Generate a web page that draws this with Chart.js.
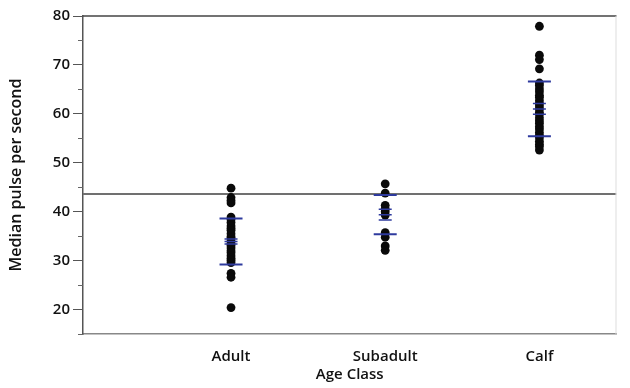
<!DOCTYPE html>
<html>
<head>
    <script src="https://cdn.jsdelivr.net/npm/chart.js@4.4.1/dist/chart.umd.min.js"></script>
    <style>
        body { margin: 0; background: #fff; }
    </style>
</head>
<body>
<canvas id="myChart" width="630" height="388"></canvas>
<script>
// values
var categories = ["Adult", "Subadult", "Calf"];
var adultPulse = [44.8, 42.9, 42.3, 41.8, 38.9, 38.4, 37.8, 37.1, 36.6, 36.2, 35.5, 34.9, 34.6, 34.0, 33.5, 33.1, 32.6, 32.0, 31.6, 31.0, 30.5, 30.1, 29.6, 27.4, 26.6, 20.4];
var subadultPulse = [45.7, 43.8, 41.3, 40.6, 40.0, 39.3, 35.7, 34.8, 33.0, 32.1];
var calfPulse = [77.9, 72.0, 71.1, 69.2, 66.3, 65.8, 65.1, 64.5, 63.8, 63.4, 62.7, 62.1, 61.6, 61.0, 60.3, 59.9, 59.2, 58.6, 58.1, 57.4, 56.9, 56.2, 55.6, 55.1, 54.4, 53.8, 53.3, 52.6];
var groupMean = [33.9, 39.4, 61.0];
var groupSE = [0.5, 1.1, 1.1];
var groupSD = [4.7, 4.0, 5.6];
var grandMean = 43.6;
var yTicks = [20, 30, 40, 50, 60, 70, 80];
var yMinorTicks = [15, 25, 35, 45, 55, 65, 75];

var xMin = 0.04, xMax = 3.5;
var groups = [adultPulse, subadultPulse, calfPulse];

var dots = [], sdLines = [], seLines = [];
groups.forEach(function(vals, i) {
    vals.forEach(function(v) { dots.push({x: i + 1, y: v}); });
    sdLines.push({x: i + 1, y: groupMean[i] + groupSD[i]}, {x: i + 1, y: groupMean[i] - groupSD[i]});
    seLines.push({x: i + 1, y: groupMean[i] + groupSE[i]}, {x: i + 1, y: groupMean[i]}, {x: i + 1, y: groupMean[i] - groupSE[i]});
});

// frame on top/right and the short minor ticks on the y axis
var extras = {
    id: "extras",
    afterDraw: function(chart) {
        var c = chart.ctx, a = chart.chartArea, y = chart.scales.y;
        c.save();
        c.strokeStyle = "#444";
        c.lineWidth = 1.5;
        c.beginPath();
        c.moveTo(a.left, a.top);
        c.lineTo(a.right, a.top);
        c.stroke();
        c.strokeStyle = "#ddd";
        c.lineWidth = 1;
        c.beginPath();
        c.moveTo(a.right - 0.5, a.top);
        c.lineTo(a.right - 0.5, a.bottom);
        c.stroke();
        c.strokeStyle = "#666";
        c.lineWidth = 1;
        yMinorTicks.forEach(function(t) {
            var p = Math.round(y.getPixelForValue(t)) + 0.5;
            c.beginPath();
            c.moveTo(a.left - 5, p);
            c.lineTo(a.left, p);
            c.stroke();
        });
        c.restore();
    }
};

var font = {family: "Open Sans", size: 15, weight: 600};
var titleFont = {family: "Open Sans", size: 16, weight: 600};

new Chart(document.getElementById("myChart").getContext("2d"), {
    type: "scatter",
    data: {
        datasets: [{
            label: "Std Dev",
            data: sdLines,
            pointStyle: "line",
            pointRadius: 11.5,
            borderColor: "#2e3a9e",
            borderWidth: 2,
            order: 1
        }, {
            label: "Mean Error",
            data: seLines,
            pointStyle: "line",
            pointRadius: 6.5,
            borderColor: "#2e3a9e",
            borderWidth: 1.5,
            order: 1
        }, {
            label: "Pulse",
            data: dots,
            pointRadius: 4.4,
            backgroundColor: "#0a0a0a",
            borderWidth: 0,
            order: 2
        }, {
            type: "line",
            label: "Grand Mean",
            data: [{x: xMin, y: grandMean}, {x: xMax, y: grandMean}],
            borderColor: "#707070",
            borderWidth: 2,
            pointRadius: 0,
            order: 3
        }]
    },
    options: {
        responsive: false,
        animation: false,
        events: [],
        layout: {padding: {top: 16, right: 2}},
        plugins: {legend: {display: false}, tooltip: {enabled: false}},
        scales: {
            x: {
                type: "linear",
                min: xMin,
                max: xMax,
                afterBuildTicks: function(s) { s.ticks = categories.map(function(c, i) { return {value: i + 1}; }); },
                afterFit: function(s) { s.height = 54; },
                ticks: {
                    callback: function(v) { return categories[v - 1]; },
                    font: font,
                    color: "#111",
                    padding: 6
                },
                grid: {display: false},
                border: {color: "#888", width: 1.5},
                title: {display: true, text: "Age Class", font: font, color: "#111", padding: {top: 3}}
            },
            y: {
                min: 15,
                max: 80,
                afterBuildTicks: function(s) { s.ticks = yTicks.map(function(v) { return {value: v}; }); },
                afterFit: function(s) { s.width = 83; },
                ticks: {font: font, color: "#111", padding: 3},
                grid: {drawOnChartArea: false, drawTicks: true, tickLength: 10, tickColor: "#555"},
                border: {color: "#555", width: 1.5},
                title: {display: true, text: "Median pulse per second", font: titleFont, color: "#111", padding: {top: 7, bottom: 0}}
            }
        }
    },
    plugins: [extras]
});
</script>
</body>
</html>
